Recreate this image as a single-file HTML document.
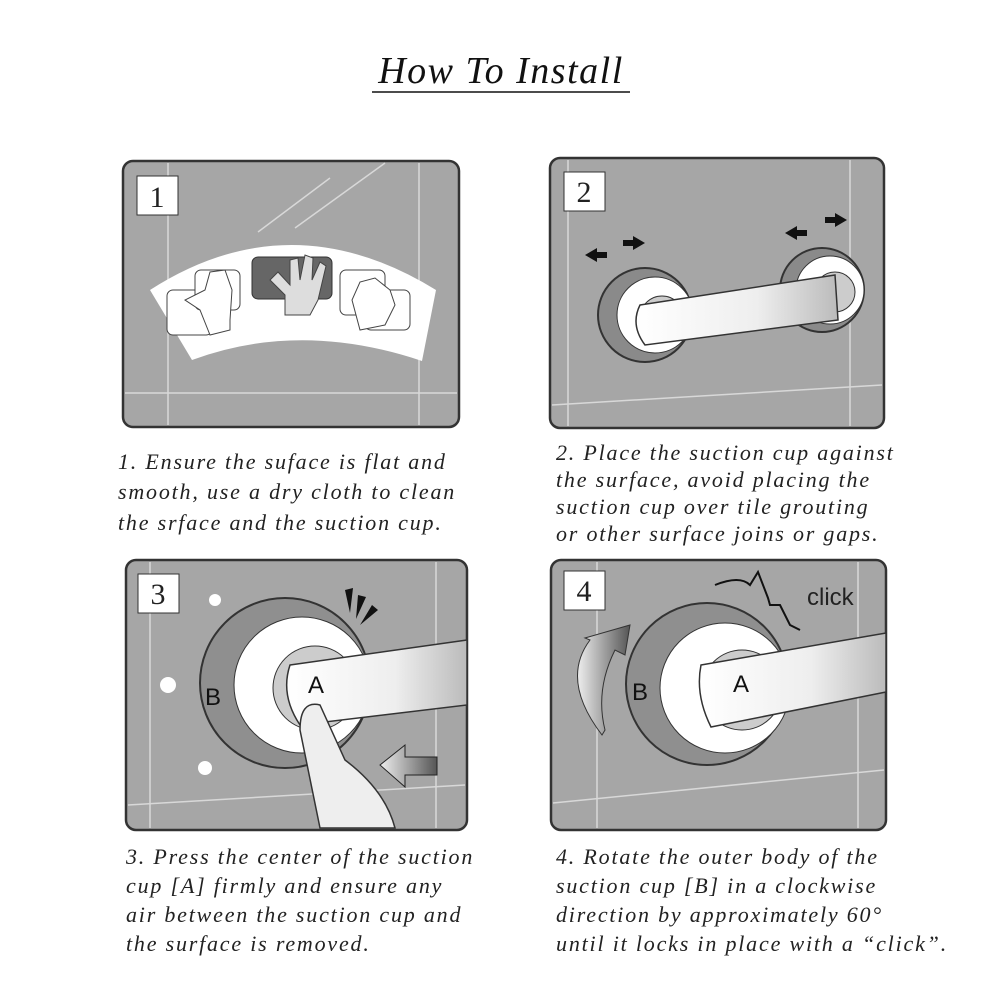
<!DOCTYPE html>
<html><head><meta charset="utf-8"><style>
html,body{margin:0;padding:0;background:#fff;}
svg{display:block}
text.c{font-family:"Liberation Serif",serif;font-style:italic;font-size:22px;fill:#222;letter-spacing:1.8px}
</style></head><body>
<svg width="1002" height="1002" viewBox="0 0 1002 1002" xmlns="http://www.w3.org/2000/svg">
<defs>
<linearGradient id="bar" x1="0" x2="1"><stop offset="0" stop-color="#fff"/><stop offset="0.6" stop-color="#eee"/><stop offset="1" stop-color="#bbb"/></linearGradient>
<linearGradient id="arr" x1="0" x2="1"><stop offset="0" stop-color="#eee"/><stop offset="1" stop-color="#555"/></linearGradient>
</defs>
<text x="501" y="83" text-anchor="middle" font-family="Liberation Serif,serif" font-style="italic" font-size="38" letter-spacing="1.5" fill="#111">How To Install</text>
<line x1="372" y1="92" x2="630" y2="92" stroke="#111" stroke-width="1.5"/>

<!-- Panel 1 -->
<rect x="123" y="161" width="336" height="266" rx="10" fill="#a6a6a6" stroke="#333" stroke-width="2.5"/>
<g stroke="#d8d8d8" stroke-width="1.5"><line x1="168" y1="163" x2="168" y2="425"/><line x1="419" y1="163" x2="419" y2="425"/><line x1="125" y1="393" x2="457" y2="393"/><line x1="258" y1="232" x2="330" y2="178"/><line x1="295" y1="228" x2="385" y2="163"/></g>
<rect x="137" y="176" width="41" height="39" fill="#fff" stroke="#333"/>
<text x="157" y="207" text-anchor="middle" font-family="Liberation Serif,serif" font-size="30" fill="#222">1</text>
<path d="M150,290 Q290,200 436,290 L422,361 Q300,320 192,360 Z" fill="#fff"/>
<rect x="252" y="257" width="80" height="42" rx="6" fill="#666" stroke="#333"/>
<path d="M285,315 L285,295 L270,280 L278,272 L290,285 L290,260 L298,258 L300,280 L305,255 L313,258 L312,280 L320,262 L326,266 L318,300 L310,315 Z" fill="#ddd" stroke="#444"/>
<rect x="167" y="290" width="45" height="45" rx="6" fill="#fff" stroke="#444"/>
<rect x="195" y="270" width="45" height="40" rx="6" fill="#fff" stroke="#444"/>
<path d="M210,335 L200,310 L185,300 L205,290 L210,272 L225,270 L232,290 L230,320 L230,330 Z" fill="#fff" stroke="#444"/>
<rect x="340" y="270" width="45" height="45" rx="6" fill="#fff" stroke="#444"/>
<rect x="365" y="290" width="45" height="40" rx="6" fill="#fff" stroke="#444"/>
<path d="M360,330 L352,300 L360,282 L375,278 L390,290 L395,305 L385,325 Z" fill="#fff" stroke="#444"/>

<!-- Panel 2 -->
<rect x="550" y="158" width="334" height="270" rx="10" fill="#a6a6a6" stroke="#333" stroke-width="2.5"/>
<g stroke="#d8d8d8" stroke-width="1.5"><line x1="568" y1="160" x2="568" y2="426"/><line x1="850" y1="160" x2="850" y2="426"/><line x1="552" y1="405" x2="882" y2="385"/></g>
<rect x="564" y="172" width="41" height="39" fill="#fff" stroke="#333"/>
<text x="584" y="202" text-anchor="middle" font-family="Liberation Serif,serif" font-size="30" fill="#222">2</text>
<circle cx="645" cy="315" r="47" fill="#8a8a8a" stroke="#333" stroke-width="2"/>
<circle cx="655" cy="315" r="38" fill="#fff" stroke="#333"/>
<circle cx="662" cy="318" r="22" fill="#ccc" stroke="#333"/>
<circle cx="822" cy="290" r="42" fill="#8a8a8a" stroke="#333" stroke-width="2"/>
<circle cx="830" cy="290" r="34" fill="#fff" stroke="#333"/>
<circle cx="835" cy="292" r="20" fill="#ccc" stroke="#333"/>
<path d="M640,305 L835,275 L838,320 L645,345 Q630,325 640,305 Z" fill="url(#bar)" stroke="#333" stroke-width="1.5"/>
<g fill="#111"><path d="M585,255 l12,-7 v4 h10 v6 h-10 v4 z"/><path d="M645,243 l-12,-7 v4 h-10 v6 h10 v4 z"/><path d="M785,233 l12,-7 v4 h10 v6 h-10 v4 z"/><path d="M847,220 l-12,-7 v4 h-10 v6 h10 v4 z"/></g>

<!-- Panel 3 -->
<rect x="126" y="560" width="341" height="270" rx="10" fill="#a6a6a6" stroke="#333" stroke-width="2.5"/>
<g stroke="#d8d8d8" stroke-width="1.5"><line x1="150" y1="562" x2="150" y2="828"/><line x1="436" y1="562" x2="436" y2="828"/><line x1="128" y1="805" x2="465" y2="785"/></g>
<rect x="138" y="574" width="41" height="39" fill="#fff" stroke="#333"/>
<text x="158" y="604" text-anchor="middle" font-family="Liberation Serif,serif" font-size="30" fill="#222">3</text>
<circle cx="285" cy="683" r="85" fill="#8f8f8f" stroke="#333" stroke-width="2"/>
<circle cx="302" cy="685" r="68" fill="#fff" stroke="#333"/>
<circle cx="315" cy="688" r="42" fill="#ccc" stroke="#333"/>
<path d="M290,665 L467,640 L467,705 L300,725 Q280,695 290,665 Z" fill="url(#bar)" stroke="#333" stroke-width="1.5"/>
<text x="205" y="705" font-family="Liberation Sans,sans-serif" font-size="24" fill="#111">B</text>
<text x="308" y="693" font-family="Liberation Sans,sans-serif" font-size="24" fill="#111">A</text>
<path d="M320,828 L300,730 Q300,700 320,705 L345,760 Q385,790 395,828 Z" fill="#eee" stroke="#333" stroke-width="1.5"/>
<path d="M380,765 l25,-20 v12 h32 v18 h-32 v12 z" fill="url(#arr)" stroke="#222"/>
<g fill="#111"><path d="M345,590 l8,-2 l-3,25 z"/><path d="M358,595 l8,2 l-10,22 z"/><path d="M372,605 l6,5 l-18,15 z"/></g>
<g fill="#fff"><circle cx="215" cy="600" r="6"/><circle cx="168" cy="685" r="8"/><circle cx="205" cy="768" r="7"/></g>

<!-- Panel 4 -->
<rect x="551" y="560" width="335" height="270" rx="10" fill="#a6a6a6" stroke="#333" stroke-width="2.5"/>
<g stroke="#d8d8d8" stroke-width="1.5"><line x1="597" y1="562" x2="597" y2="828"/><line x1="858" y1="562" x2="858" y2="828"/><line x1="553" y1="803" x2="884" y2="770"/></g>
<rect x="564" y="571" width="41" height="39" fill="#fff" stroke="#333"/>
<text x="584" y="601" text-anchor="middle" font-family="Liberation Serif,serif" font-size="30" fill="#222">4</text>
<circle cx="707" cy="684" r="81" fill="#8f8f8f" stroke="#333" stroke-width="2"/>
<circle cx="725" cy="688" r="65" fill="#fff" stroke="#333"/>
<circle cx="742" cy="690" r="40" fill="#ccc" stroke="#333"/>
<path d="M701,665 L886,633 L886,692 L711,727 Q695,695 701,665 Z" fill="url(#bar)" stroke="#333" stroke-width="1.5"/>
<text x="632" y="700" font-family="Liberation Sans,sans-serif" font-size="24" fill="#111">B</text>
<text x="733" y="692" font-family="Liberation Sans,sans-serif" font-size="24" fill="#111">A</text>
<path d="M602,735 Q560,680 590,640 L585,638 L630,625 L625,655 L615,650 Q595,690 605,730 Z" fill="url(#arr)" stroke="#333"/>
<path d="M715,585 Q740,575 750,585 L758,572 L768,598 L770,605 L780,605 L790,625 L800,630" fill="none" stroke="#111" stroke-width="2"/>
<text x="807" y="605" font-family="Liberation Sans,sans-serif" font-size="24" fill="#222">click</text>

<!-- Captions -->
<text class="c" x="118" y="469">1. Ensure the suface is flat and</text>
<text class="c" x="118" y="499">smooth, use a dry cloth to clean</text>
<text class="c" x="118" y="530">the srface and the suction cup.</text>
<text class="c" x="556" y="460">2. Place the suction cup against</text>
<text class="c" x="556" y="487">the surface, avoid placing the</text>
<text class="c" x="556" y="514">suction cup over tile grouting</text>
<text class="c" x="556" y="541">or other surface joins or gaps.</text>
<text class="c" x="126" y="864">3. Press the center of the suction</text>
<text class="c" x="126" y="893">cup [A] firmly and ensure any</text>
<text class="c" x="126" y="922">air between the suction cup and</text>
<text class="c" x="126" y="951">the surface is removed.</text>
<text class="c" x="556" y="864">4. Rotate the outer body of the</text>
<text class="c" x="556" y="893">suction cup [B] in a clockwise</text>
<text class="c" x="556" y="922">direction by approximately 60°</text>
<text class="c" x="556" y="951" textLength="392" lengthAdjust="spacingAndGlyphs">until it locks in place with a “click”.</text>
</svg>
</body></html>
